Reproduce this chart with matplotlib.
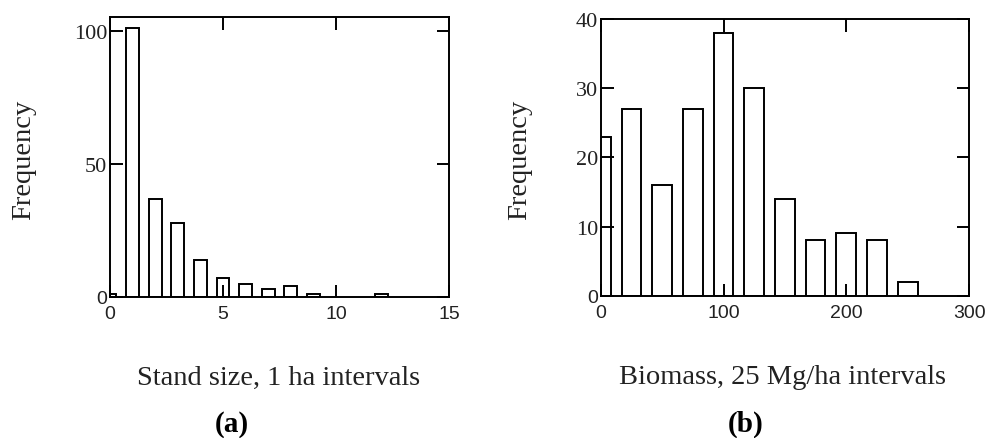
import numpy as np
import matplotlib.pyplot as plt

# stand size histogram, 1 ha bins
stand_bins = [0, 1, 2, 3, 4, 5, 6, 7, 8, 9, 12]
stand_freq = [1, 101, 37, 28, 14, 7, 5, 3, 4, 1, 1]

# biomass histogram, 25 Mg/ha bins
biomass_bins = [0, 25, 50, 75, 100, 125, 150, 175, 200, 225, 250]
biomass_freq = [23, 27, 16, 27, 38, 30, 14, 8, 9, 8, 2]

serif = 'Liberation Serif'
sans = 'Liberation Sans'
ink = '#222222'

fig = plt.figure(figsize=(9.92, 4.39), dpi=100)
ax1 = fig.add_axes([0.1109, 0.3212, 0.3417, 0.6378])
ax2 = fig.add_axes([0.6056, 0.3242, 0.3713, 0.6303])


def style(ax, xticks, yticks):
    for s in ax.spines.values():
        s.set_linewidth(1.4)
    ax.set_xticks(xticks, labels=[str(t) for t in xticks])
    ax.set_yticks(yticks, labels=[str(t) for t in yticks])
    ax.tick_params(direction='in', length=9, width=1.4, top=True, right=True,
                   colors='black', labelcolor=ink)
    ax.tick_params(axis='x', pad=6)
    ax.tick_params(axis='y', pad=2)
    for lbl in ax.get_xticklabels():
        lbl.set_fontfamily(sans)
        lbl.set_fontsize(14)
    for lbl in ax.get_yticklabels():
        if lbl.get_text() == '0':
            lbl.set_fontfamily(sans)
            lbl.set_fontsize(14)
        else:
            lbl.set_fontfamily(serif)
            lbl.set_fontsize(16)


ax1.bar(stand_bins, stand_freq, width=0.56, facecolor='white',
        edgecolor='black', linewidth=1.4)
ax1.set_xlim(0, 15)
ax1.set_ylim(0, 105.3)
style(ax1, [0, 5, 10, 15], [0, 50, 100])

ax2.bar(biomass_bins, biomass_freq, width=16, facecolor='white',
        edgecolor='black', linewidth=1.4)
ax2.set_xlim(0, 300)
ax2.set_ylim(0, 40)
style(ax2, [0, 100, 200, 300], [0, 10, 20, 30, 40])

for x in (0.024, 0.524):
    fig.text(x, 0.635, 'Frequency', rotation=90, ha='center', va='center',
             family=serif, fontsize=20.5, color=ink)

fig.text(0.281, 0.139, 'Stand size, 1 ha intervals', ha='center', va='center',
         family=serif, fontsize=20.5, color=ink)
fig.text(0.789, 0.141, 'Biomass, 25 Mg/ha intervals', ha='center', va='center',
         family=serif, fontsize=20.5, color=ink)
fig.text(0.234, 0.033, '(a)', ha='center', va='center', family=serif,
         fontsize=21, fontweight='bold', color='black')
fig.text(0.752, 0.033, '(b)', ha='center', va='center', family=serif,
         fontsize=21, fontweight='bold', color='black')

fig.savefig('out.png', dpi=100)
